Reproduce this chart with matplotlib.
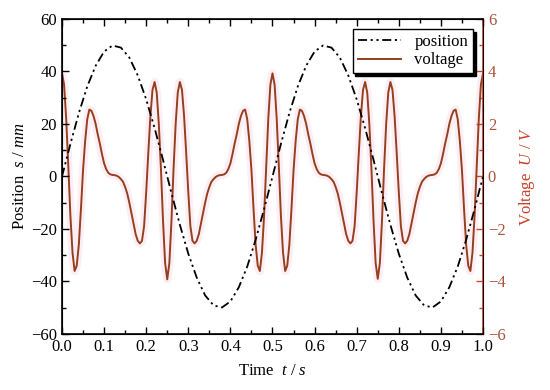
import numpy as np
import matplotlib.pyplot as plt
from matplotlib.ticker import MultipleLocator

plt.rcParams['font.family'] = 'Liberation Serif'
plt.rcParams['mathtext.fontset'] = 'custom'
plt.rcParams['mathtext.it'] = 'Liberation Serif:italic'
plt.rcParams['mathtext.rm'] = 'Liberation Serif'

t_pos = np.round(np.arange(0, 1.0001, 0.02), 3)
pos_first = [0, 12.4, 24.1, 34.3, 42.2, 47.6, 49.9, 49.1, 45.3, 38.5, 29.4, 18.4, 6.3,
             -6.3, -18.4, -29.4, -38.5, -45.3, -49.1, -49.9, -47.6, -42.2, -34.3, -24.1, -12.4, 0]
pos_second = [12.4, 24.1, 34.3, 42.2, 47.6, 49.9, 49.1, 45.3, 38.5, 29.4, 18.4, 6.3,
              -6.3, -18.4, -29.4, -38.5, -45.3, -49.1, -49.9, -47.6, -42.2, -34.3, -24.1, -12.4, 0]
position = pos_first + pos_second

t_volt = np.round(np.arange(0, 1.0001, 0.005), 4)
volt_first = [3.93, 3.5, 2.2, 0.4, -1.5, -2.9, -3.6, -3.4, -2.6, -1.25,
              0.24, 1.35, 2.18, 2.55, 2.5, 2.3, 2.0, 1.6, 1.25, 0.85,
              0.5, 0.28, 0.14, 0.08, 0.06, 0.05, 0.03, -0.02, -0.1, -0.2,
              -0.4, -0.65, -1.0, -1.4, -1.8, -2.2, -2.45, -2.55, -2.45, -1.9,
              -0.6, 0.9, 2.3, 3.3, 3.6, 3.2, 2.0, 0.3, -1.7, -3.3,
              -3.92,
              -3.3, -1.7, 0.3, 2.0, 3.2, 3.6, 3.3, 2.3, 0.9, -0.6,
              -1.9, -2.45, -2.55, -2.45, -2.2, -1.8, -1.4, -1.0, -0.65, -0.4,
              -0.2, -0.1, -0.02, 0.03, 0.05, 0.06, 0.08, 0.14, 0.28, 0.5,
              0.85, 1.25, 1.6, 2.0, 2.3, 2.5, 2.55, 2.18, 1.35, 0.24,
              -1.25, -2.6, -3.4, -3.6, -2.9, -1.5, 0.4, 2.2, 3.5, 3.93]
volt_second = [3.5, 2.2, 0.4, -1.5, -2.9, -3.6, -3.4, -2.6, -1.25,
               0.24, 1.35, 2.18, 2.55, 2.5, 2.3, 2.0, 1.6, 1.25, 0.85,
               0.5, 0.28, 0.14, 0.08, 0.06, 0.05, 0.03, -0.02, -0.1, -0.2,
               -0.4, -0.65, -1.0, -1.4, -1.8, -2.2, -2.45, -2.55, -2.45, -1.9,
               -0.6, 0.9, 2.3, 3.3, 3.6, 3.2, 2.0, 0.3, -1.7, -3.3,
               -3.9,
               -3.3, -1.7, 0.3, 2.0, 3.2, 3.6, 3.3, 2.3, 0.9, -0.6,
               -1.9, -2.45, -2.55, -2.45, -2.2, -1.8, -1.4, -1.0, -0.65, -0.4,
               -0.2, -0.1, -0.02, 0.03, 0.05, 0.06, 0.08, 0.14, 0.28, 0.5,
               0.85, 1.25, 1.6, 2.0, 2.3, 2.5, 2.55, 2.18, 1.35, 0.24,
               -1.25, -2.6, -3.4, -3.6, -2.9, -1.5, 0.4, 2.2, 3.5, 3.93]
voltage = volt_first + volt_second

volt_color = '#94401c'
axis_red = '#d8402a'

fig = plt.figure(figsize=(5.5, 3.9), dpi=100)
ax = fig.add_axes([0.1127, 0.1436, 0.7655, 0.8077])
ax2 = ax.twinx()

# voltage with a faint pink halo
ax2.plot(t_volt, voltage, color='#fdeef5', lw=6, solid_capstyle='butt', zorder=1)
v_line, = ax2.plot(t_volt, voltage, color=volt_color, lw=1.4, zorder=2, label='voltage')

p_line, = ax.plot(t_pos, position, color='black', lw=1.3,
                  dashes=(5, 2, 1.2, 2, 1.2, 2), label='position')
ax.set_zorder(ax2.get_zorder() + 1)
ax.patch.set_visible(False)

ax.set_xlim(0, 1)
ax.set_ylim(-60, 60)
ax2.set_ylim(-6, 6)

ax.xaxis.set_major_locator(MultipleLocator(0.1))
ax.xaxis.set_minor_locator(MultipleLocator(0.05))
ax.yaxis.set_major_locator(MultipleLocator(20))
ax.yaxis.set_minor_locator(MultipleLocator(10))
ax2.yaxis.set_major_locator(MultipleLocator(2))
ax2.yaxis.set_minor_locator(MultipleLocator(1))
ax.xaxis.set_major_formatter(plt.FuncFormatter(lambda v, p: f'{v:.1f}'))
ax.yaxis.set_major_formatter(plt.FuncFormatter(lambda v, p: f'{v:.0f}'.replace('-', '\u2212')))
ax2.yaxis.set_major_formatter(plt.FuncFormatter(lambda v, p: f'{v:.0f}'.replace('-', '\u2212')))

ax.tick_params(which='both', direction='in', top=True, right=False, labelsize=12)
ax.tick_params(which='major', length=5, width=1)
ax.tick_params(which='minor', length=3, width=1)
ax2.tick_params(which='both', direction='in', colors=axis_red, labelcolor='#a8553a', labelsize=12)
ax2.tick_params(which='major', length=5, width=1)
ax2.tick_params(which='minor', length=3, width=1)
ax2.spines['right'].set_color(axis_red)
ax2.spines['right'].set_linewidth(1.2)
for s in ['left', 'bottom', 'top']:
    ax.spines[s].set_linewidth(1.2)

ax.set_xlabel('Time  $t$ / $s$', fontsize=12, labelpad=6)
ax.set_ylabel('Position  $s$ / $mm$', fontsize=12, labelpad=2)
ax2.set_ylabel('Voltage  $U$ / $V$', fontsize=12, color='#c8402a', labelpad=8)

leg = ax.legend(handles=[p_line, v_line], loc='upper right', fontsize=12,
                frameon=True, fancybox=False, shadow={'color': 'black', 'alpha': 1},
                edgecolor='black', framealpha=1, handlelength=2.6,
                borderaxespad=0.6, borderpad=0.3, labelspacing=0.15, handletextpad=0.8)
leg.get_frame().set_linewidth(1.0)

plt.savefig('out.png', dpi=100)
